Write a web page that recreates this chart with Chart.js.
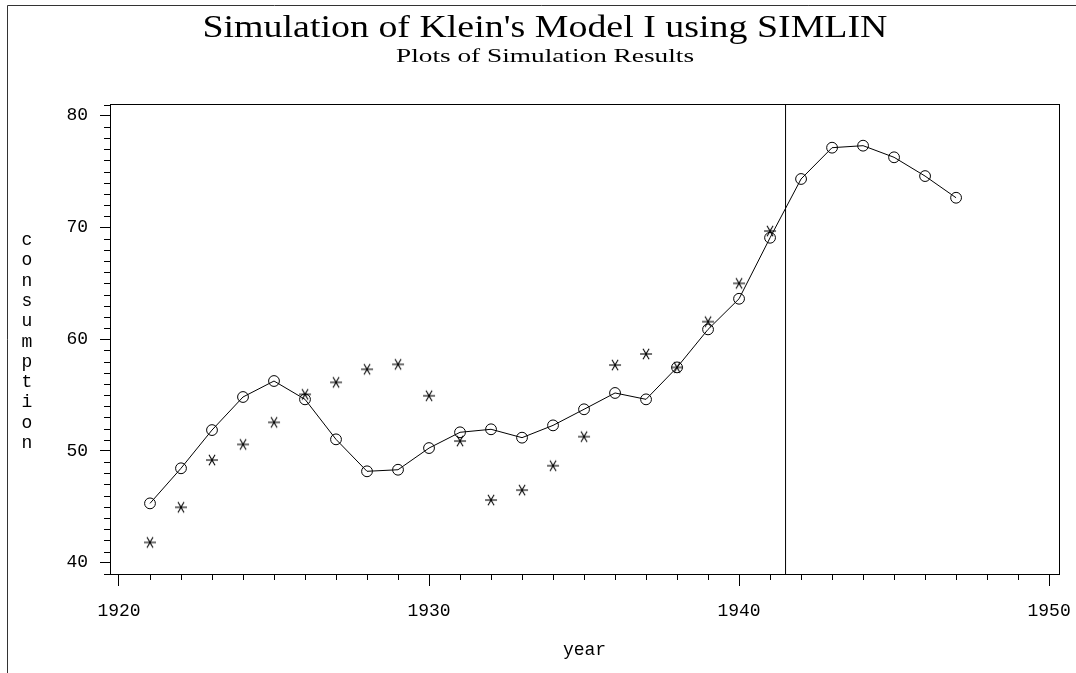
<!DOCTYPE html>
<html><head><meta charset="utf-8">
<script src="https://cdn.jsdelivr.net/npm/chart.js@4/dist/chart.umd.min.js"></script>
<style>html,body{margin:0;padding:0;background:#fff;overflow:hidden}#wrap{width:1076px;height:673px;position:relative}</style>
</head><body><div id="wrap"><canvas id="c" width="1076" height="673"></canvas></div>
<script>
// ---- data ----
const years = [1921,1922,1923,1924,1925,1926,1927,1928,1929,1930,1931,1932,1933,1934,1935,1936,1937,1938,1939,1940,1941,1942,1943,1944,1945,1946,1947];
const simulated = [45.31,48.45,51.87,54.83,56.26,54.62,51.04,48.18,48.32,50.26,51.67,51.94,51.19,52.29,53.73,55.19,54.62,57.48,60.88,63.62,69.08,74.34,77.14,77.32,76.28,74.60,72.66];
const actualYears = [1921,1922,1923,1924,1925,1926,1927,1928,1929,1930,1931,1932,1933,1934,1935,1936,1937,1938,1939,1940,1941];
const actual = [41.82,44.96,49.19,50.59,52.56,55.07,56.14,57.31,57.75,54.94,50.89,45.61,46.50,48.68,51.28,57.69,58.68,57.48,61.57,65.00,69.68];
const xTicks = [1920,1930,1940,1950];
const yTicks = [40,50,60,70,80];
const splitYear = 1941.5;
const xMin = 1919.71, xMax = 1950.32, yMin = 38.99, yMax = 81.05;
const titleText = "Simulation of Klein's Model I using SIMLIN";
const subtitleText = "Plots of Simulation Results";
const xTitle = "year";
const yTitle = "consumption";

const MONO = '"Liberation Mono", "DejaVu Sans Mono", monospace';
const SERIF = '"Liberation Serif", "DejaVu Serif", serif';

const starImg = (() => {
  const c = document.createElement('canvas'); c.width = 16; c.height = 16;
  const g = c.getContext('2d'); g.strokeStyle = '#000'; g.lineWidth = 1.1; g.translate(8, 8);
  for (const a of [0, 60, 120]) {
    const r = a * Math.PI / 180;
    g.beginPath(); g.moveTo(-6 * Math.cos(r), -6 * Math.sin(r)); g.lineTo(6 * Math.cos(r), 6 * Math.sin(r)); g.stroke();
  }
  return c;
})();

function fitText(ctx, text, cx, by, width) {
  const w = ctx.measureText(text).width;
  ctx.save(); ctx.translate(cx, by); ctx.scale(width / w, 1);
  ctx.textAlign = 'center'; ctx.textBaseline = 'alphabetic';
  ctx.fillText(text, 0, 0); ctx.restore();
}

const decor = {
  id: 'decor',
  afterDraw(chart) {
    const ctx = chart.ctx, a = chart.chartArea, xs = chart.scales.x, ys = chart.scales.y;
    ctx.save();
    ctx.strokeStyle = '#000'; ctx.lineWidth = 1;
    // plot frame
    ctx.strokeRect(Math.round(a.left) + 0.5, Math.round(a.top) + 0.5, Math.round(a.right - a.left), Math.round(a.bottom - a.top));
    // minor ticks
    ctx.beginPath();
    for (let v = Math.ceil(xMin); v <= xMax; v++) {
      if (xTicks.includes(v)) continue;
      const px = Math.round(xs.getPixelForValue(v)) + 0.5;
      ctx.moveTo(px, a.bottom + 1); ctx.lineTo(px, a.bottom + 6);
    }
    for (let v = Math.ceil(yMin); v <= yMax; v++) {
      if (yTicks.includes(v)) continue;
      const py = Math.round(ys.getPixelForValue(v)) + 0.5;
      ctx.moveTo(a.left - 6, py); ctx.lineTo(a.left, py);
    }
    ctx.stroke();
    // outer frame
    ctx.strokeStyle = '#333';
    ctx.beginPath();
    ctx.moveTo(7.5, 673); ctx.lineTo(7.5, 5.5); ctx.lineTo(1076, 5.5);
    ctx.stroke();
    // texts
    ctx.fillStyle = '#000';
    ctx.font = '32px ' + SERIF;
    fitText(ctx, titleText, 545, 37, 685);
    ctx.font = '19px ' + SERIF;
    fitText(ctx, subtitleText, 545, 62, 298);
    ctx.font = '18px ' + MONO; ctx.textAlign = 'center'; ctx.textBaseline = 'alphabetic';
    ctx.fillText(xTitle, (a.left + a.right) / 2, 655);
    const letters = yTitle.split('');
    letters.forEach((ch, i) => ctx.fillText(ch, 27, 245 + i * 20.3));
    ctx.restore();
  }
};

const noPad = s => { s.paddingLeft = 0; s.paddingRight = 0; s.paddingTop = 0; s.paddingBottom = 0; };

new Chart(document.getElementById('c'), {
  type: 'line',
  data: {
    datasets: [
      { label: 'simulated', data: years.map((x, i) => ({ x, y: simulated[i] })), borderColor: '#000', borderWidth: 1,
        pointStyle: 'circle', pointRadius: 5.4, pointBorderColor: '#000', pointBackgroundColor: 'rgba(0,0,0,0)', pointBorderWidth: 1,
        tension: 0, fill: false },
      { label: 'actual', data: actualYears.map((x, i) => ({ x, y: actual[i] })), showLine: false,
        pointStyle: starImg, pointRadius: 8 },
      { label: 'split', data: [{ x: splitYear, y: yMin }, { x: splitYear, y: yMax }], borderColor: '#000', borderWidth: 1, pointRadius: 0, fill: false }
    ]
  },
  options: {
    responsive: false, animation: false, events: [],
    layout: { padding: { left: 0, right: 17, top: 104, bottom: 0 } },
    plugins: { legend: { display: false }, tooltip: { enabled: false }, title: { display: false } },
    scales: {
      x: {
        type: 'linear', position: 'bottom', min: xMin, max: xMax,
        afterFit: s => { s.height = 99; noPad(s); },
        afterBuildTicks: s => { s.ticks = xTicks.map(v => ({ value: v })); },
        ticks: { font: { family: MONO, size: 18 }, color: '#000', padding: 14, maxRotation: 0, autoSkip: false, callback: v => String(v) },
        grid: { drawOnChartArea: false, tickLength: 12, color: '#000', lineWidth: 1 },
        border: { display: true, color: '#000', width: 1 }
      },
      y: {
        type: 'linear', position: 'left', min: yMin, max: yMax,
        afterFit: s => { s.width = 110; noPad(s); },
        afterBuildTicks: s => { s.ticks = yTicks.map(v => ({ value: v })); },
        ticks: { font: { family: MONO, size: 18 }, color: '#000', padding: 12, autoSkip: false, callback: v => String(v) },
        grid: { drawOnChartArea: false, tickLength: 10, color: '#000', lineWidth: 1 },
        border: { display: true, color: '#000', width: 1 }
      }
    }
  },
  plugins: [decor]
});
</script></body></html>
